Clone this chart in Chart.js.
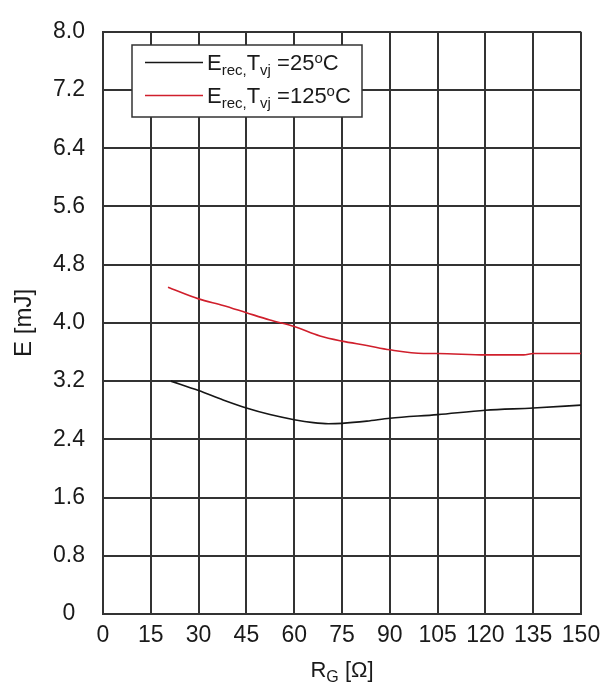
<!DOCTYPE html>
<html>
<head>
<meta charset="utf-8">
<script src="https://cdn.jsdelivr.net/npm/chart.js@4/dist/chart.umd.min.js"></script>
<style>
  html, body { margin: 0; padding: 0; background: #ffffff; }
  #c { display: block; }
</style>
</head>
<body>
<canvas id="c" width="611" height="686"></canvas>
<script>
// ---- data ----
const rgBlack = [21.3, 30, 37.7, 45, 52.4, 60, 66, 70.7, 75, 82.8, 90, 105, 120, 135, 150];
const eBlack  = [3.20, 3.07, 2.94, 2.83, 2.74, 2.67, 2.63, 2.615, 2.62, 2.65, 2.69, 2.74, 2.80, 2.83, 2.87];
const rgRed   = [20.4, 30, 37.7, 45, 52.4, 60, 68.1, 75, 82.8, 90, 100.6, 105, 120, 132, 135, 150];
const eRed    = [4.49, 4.33, 4.24, 4.14, 4.04, 3.95, 3.82, 3.75, 3.69, 3.63, 3.58, 3.58, 3.56, 3.56, 3.58, 3.58];

const xTicks = [0, 15, 30, 45, 60, 75, 90, 105, 120, 135, 150];
const yTicks = [0, 0.8, 1.6, 2.4, 3.2, 4.0, 4.8, 5.6, 6.4, 7.2, 8.0];
const yTickLabels = ['0', '0.8', '1.6', '2.4', '3.2', '4.0', '4.8', '5.6', '6.4', '7.2', '8.0'];

const seriesNames = ['E_rec,T_vj =25°C', 'E_rec,T_vj =125°C'];
// legend label pieces: [text, kind]
const legendParts = [
  [['E','m'],['rec,','sub'],['T','m'],['vj','sub'],[' =25','m'],['o','sup'],['C','m']],
  [['E','m'],['rec,','sub'],['T','m'],['vj','sub'],[' =125','m'],['o','sup'],['C','m']]
];
const seriesColors = ['#161616', '#d01f2c'];
const xTitleParts = [['R','m'],['G','sub'],[' [Ω]','m']];
const yTitle = 'E [mJ]';

const FONT = "'Liberation Sans', Arial, Helvetica, sans-serif";

function toPoints(xs, ys) { return xs.map((x, i) => ({ x: x, y: ys[i] })); }

function drawParts(ctx, parts, x, baseline, mainSize, subSize) {
  let cx = x;
  ctx.textBaseline = 'alphabetic';
  ctx.textAlign = 'left';
  for (const [t, k] of parts) {
    let size = mainSize, dy = 0;
    if (k === 'sub') { size = subSize; dy = 5; }
    if (k === 'sup') { size = subSize; dy = -7; }
    ctx.font = size + 'px ' + FONT;
    ctx.fillText(t, cx, baseline + dy);
    cx += ctx.measureText(t).width;
  }
  return cx - x;
}

function partsWidth(ctx, parts, mainSize, subSize) {
  let w = 0;
  for (const [t, k] of parts) {
    const size = k === 'm' ? mainSize : subSize;
    ctx.font = size + 'px ' + FONT;
    w += ctx.measureText(t).width;
  }
  return w;
}

const overlayPlugin = {
  id: 'overlay',
  afterDraw(chart) {
    const ctx = chart.ctx;
    const area = chart.chartArea;
    ctx.save();
    // legend box
    const bx = 132, by = 45, bw = 230, bh = 72;
    ctx.fillStyle = '#ffffff';
    ctx.fillRect(bx, by, bw, bh);
    ctx.strokeStyle = '#333333';
    ctx.lineWidth = 1.5;
    ctx.strokeRect(bx, by, bw, bh);
    const baselines = [70, 103];
    for (let i = 0; i < legendParts.length; i++) {
      const ds = chart.data.datasets[i];
      ctx.strokeStyle = ds.borderColor;
      ctx.lineWidth = 1.6;
      ctx.beginPath();
      ctx.moveTo(145, baselines[i] - 7.5);
      ctx.lineTo(203, baselines[i] - 7.5);
      ctx.stroke();
      ctx.fillStyle = '#1a1a1a';
      drawParts(ctx, legendParts[i], 207, baselines[i], 22, 15);
    }
    // x axis title
    ctx.fillStyle = '#1a1a1a';
    const w = partsWidth(ctx, xTitleParts, 22, 16);
    const cx = (area.left + area.right) / 2;
    drawParts(ctx, xTitleParts, cx - w / 2, 677, 22, 16);
    ctx.restore();
  }
};

new Chart(document.getElementById('c'), {
  type: 'scatter',
  data: {
    datasets: [
      {
        label: seriesNames[0],
        data: toPoints(rgBlack, eBlack),
        showLine: true,
        borderColor: seriesColors[0],
        backgroundColor: seriesColors[0],
        borderWidth: 1.6,
        pointRadius: 0,
        cubicInterpolationMode: 'monotone'
      },
      {
        label: seriesNames[1],
        data: toPoints(rgRed, eRed),
        showLine: true,
        borderColor: seriesColors[1],
        backgroundColor: seriesColors[1],
        borderWidth: 1.6,
        pointRadius: 0,
        cubicInterpolationMode: 'monotone'
      }
    ]
  },
  options: {
    responsive: false,
    animation: false,
    devicePixelRatio: 1,
    layout: { padding: { top: 18, right: 30, left: 0, bottom: 0 } },
    plugins: {
      legend: { display: false },
      tooltip: { enabled: false }
    },
    scales: {
      x: {
        type: 'linear',
        min: 0,
        max: 150,
        afterFit(scale) { scale.height = 72; },
        afterBuildTicks(scale) { scale.ticks = xTicks.map(v => ({ value: v })); },
        grid: { color: '#333333', lineWidth: 2, drawTicks: false },
        border: { color: '#333333', width: 2 },
        ticks: {
          padding: 8,
          maxRotation: 0,
          autoSkip: false,
          color: '#1a1a1a',
          font: { family: FONT, size: 23 },
          callback: v => String(v)
        }
      },
      y: {
        type: 'linear',
        min: 0,
        max: 8,
        afterFit(scale) { scale.width = 103; },
        afterBuildTicks(scale) { scale.ticks = yTicks.map(v => ({ value: v })); },
        grid: { color: '#333333', lineWidth: 2, drawTicks: false },
        border: { color: '#333333', width: 2 },
        ticks: {
          padding: 18,
          crossAlign: 'center',
          autoSkip: false,
          color: '#1a1a1a',
          font: { family: FONT, size: 23 },
          callback: (v) => {
            const i = yTicks.findIndex(t => Math.abs(t - v) < 1e-6);
            return i >= 0 ? yTickLabels[i] : '';
          }
        },
        title: {
          display: true,
          text: yTitle,
          color: '#1a1a1a',
          font: { family: FONT, size: 24 },
          padding: { top: 10, bottom: 0 }
        }
      }
    }
  },
  plugins: [overlayPlugin]
});
</script>
</body>
</html>
